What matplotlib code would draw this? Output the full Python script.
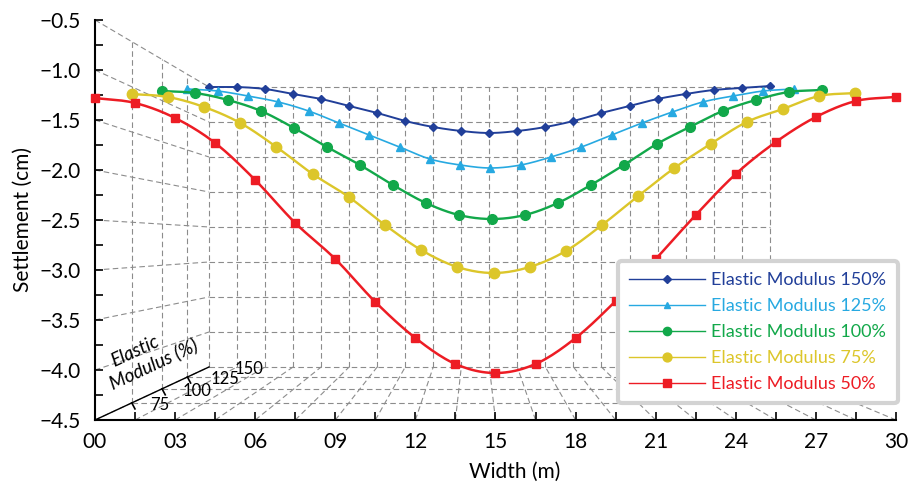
import numpy as np
import matplotlib.pyplot as plt
from matplotlib.lines import Line2D
from matplotlib.ticker import MultipleLocator, FuncFormatter

plt.rcParams['font.family'] = ['Lato', 'DejaVu Sans']

# data (settlement in cm, read against the front axis)
width_m = np.arange(0, 30.01, 1.5)
modulus_pct = [150, 125, 100, 75, 50]
settle_150 = [-1.17, -1.17, -1.19, -1.24, -1.29, -1.36, -1.43, -1.51, -1.57, -1.61, -1.63,
              -1.61, -1.57, -1.51, -1.43, -1.36, -1.29, -1.24, -1.20, -1.18, -1.16]
settle_125 = [-1.19, -1.21, -1.26, -1.32, -1.41, -1.53, -1.65, -1.77, -1.89, -1.95, -1.98,
              -1.95, -1.87, -1.77, -1.65, -1.53, -1.42, -1.32, -1.26, -1.21, -1.19]
settle_100 = [-1.21, -1.23, -1.30, -1.41, -1.58, -1.77, -1.95, -2.15, -2.33, -2.45, -2.49,
              -2.45, -2.33, -2.15, -1.95, -1.74, -1.57, -1.41, -1.30, -1.22, -1.20]
settle_75 = [-1.24, -1.27, -1.37, -1.53, -1.77, -2.04, -2.27, -2.55, -2.80, -2.97, -3.03,
             -2.97, -2.81, -2.55, -2.26, -1.98, -1.74, -1.52, -1.39, -1.26, -1.23]
settle_50 = [-1.28, -1.33, -1.48, -1.73, -2.10, -2.53, -2.89, -3.32, -3.68, -3.94, -4.03,
             -3.94, -3.68, -3.31, -2.89, -2.45, -2.04, -1.72, -1.47, -1.31, -1.27]
series = [settle_150, settle_125, settle_100, settle_75, settle_50]
depth_labels = [75, 100, 125, 150]

colors = ['#213f99', '#27a9e1', '#12a84a', '#dcc62a', '#ed1c24']
markers = ['D', '^', 'o', 'o', 's']
msizes = [4.5, 5.5, 7, 7.5, 6]
lwidths = [1.4, 1.2, 1.7, 1.7, 1.8]

# perspective box
XC, YC, K = 14.23, -2.733, 3.0 / 7.0
XMIN, XMAX, YMIN, YMAX = 0, 30, -4.5, -0.5


def scale(z):
    return 1.0 / (1.0 + K * z)


def proj(x, y, z):
    s = scale(z)
    return XC + s * (np.asarray(x) - XC), YC + s * (np.asarray(y) - YC)


def smooth(x, y, n=12):
    pts = np.column_stack([x, y])
    p = np.vstack([2 * pts[0] - pts[1], pts, 2 * pts[-1] - pts[-2]])
    t = np.linspace(0, 1, n, endpoint=False)[:, None]
    out = []
    for i in range(1, len(p) - 2):
        p0, p1, p2, p3 = p[i - 1], p[i], p[i + 1], p[i + 2]
        out.append(0.5 * (2 * p1 + (-p0 + p2) * t + (2 * p0 - 5 * p1 + 4 * p2 - p3) * t ** 2
                          + (-p0 + 3 * p1 - 3 * p2 + p3) * t ** 3))
    out.append(pts[-1:])
    pts = np.vstack(out)
    return pts[:, 0], pts[:, 1]


fig = plt.figure(figsize=(9.12, 4.86), dpi=100)
ax = fig.add_axes([95 / 912, 1 - 420 / 486, 801 / 912, 400 / 486])
ax.set_xlim(XMIN, XMAX)
ax.set_ylim(YMIN, YMAX)

gkw = dict(color='#8c8c8c', lw=0.8, ls=(0, (5, 3)), zorder=1)
depths = [0.25, 0.5, 0.75, 1.0]
y_levels = np.arange(YMIN, YMAX + 0.01, 0.5)
x_levels = np.arange(XMIN, XMAX + 0.01, 1.5)

# back wall
for yv in y_levels:
    px, py = proj([XMIN, XMAX], [yv, yv], 1.0)
    ax.plot(px, py, **gkw)
for xv in x_levels:
    px, py = proj([xv, xv], [YMIN, YMAX], 1.0)
    ax.plot(px, py, **gkw)
# left wall
for yv in y_levels:
    x0, y0 = proj(XMIN, yv, 0.0)
    x1, y1 = proj(XMIN, yv, 1.0)
    ax.plot([x0, x1], [y0, y1], **gkw)
for z in depths[:-1]:
    px, py = proj([XMIN, XMIN], [YMIN, YMAX], z)
    ax.plot(px, py, **gkw)
# floor
for z in depths[:-1]:
    px, py = proj([XMIN, XMAX], [YMIN, YMIN], z)
    ax.plot(px, py, **gkw)
for xv in x_levels[1:]:
    x0, y0 = proj(xv, YMIN, 0.0)
    x1, y1 = proj(xv, YMIN, 1.0)
    ax.plot([x0, x1], [y0, y1], **gkw)

# depth axis
x0, y0 = proj(XMIN, YMIN, 0.0)
x1, y1 = proj(XMIN, YMIN, 1.0)
ax.plot([x0, x1], [y0, y1], color='black', lw=1.0, zorder=2, clip_on=False)
for z, lab in zip(depths, depth_labels):
    tx, ty = proj(XMIN, YMIN, z)
    if z < 1.0:
        ax.plot([tx, tx + 0.12], [ty, ty - 0.06], color='black', lw=1.2, zorder=2)
    ax.text(tx + 0.6 + 0.35 * z, ty - 0.02, str(lab), fontsize=12, ha='left', va='center')
ax.text(0.72, -3.97, 'Elastic', fontsize=13.5, style='italic', rotation=25,
        rotation_mode='anchor', ha='left', va='baseline')
ax.text(0.68, -4.19, 'Modulus (%)', fontsize=13.5, style='italic', rotation=25,
        rotation_mode='anchor', ha='left', va='baseline')

# series
handles = []
for i, (vals, pct) in enumerate(zip(series, modulus_pct)):
    z = (pct - 50) / 100.0
    s = scale(z)
    xs = XC + s * (width_m - XC)
    sx, sy = smooth(xs, np.asarray(vals))
    ax.plot(sx, sy, color=colors[i], lw=lwidths[i], zorder=3 + i, clip_on=False)
    ax.plot(xs, vals, ls='none', marker=markers[i], ms=msizes[i], color=colors[i],
            mec=colors[i], zorder=3 + i, clip_on=False)
    handles.append(Line2D([], [], color=colors[i], lw=1.0, marker=markers[i],
                          ms=msizes[i] * 0.85, label=f'Elastic Modulus {pct}%'))

leg = ax.legend(handles=handles, loc='lower right', bbox_to_anchor=(1.002, 0.042),
                fontsize=13, frameon=True, fancybox=True, framealpha=1,
                handlelength=4.2, handletextpad=0.35, labelspacing=0.55,
                borderpad=0.62, borderaxespad=0)
leg.set_zorder(20)
leg.get_frame().set_linewidth(3)
leg.get_frame().set_edgecolor('#d3d3d3')
for txt, c in zip(leg.get_texts(), colors):
    txt.set_color(c)

# axes styling
for side in ['top', 'right']:
    ax.spines[side].set_visible(False)
for side in ['left', 'bottom']:
    ax.spines[side].set_linewidth(1.5)
ax.xaxis.set_major_locator(MultipleLocator(3))
ax.xaxis.set_minor_locator(MultipleLocator(1.5))
ax.yaxis.set_major_locator(MultipleLocator(0.5))
ax.yaxis.set_minor_locator(MultipleLocator(0.25))
ax.xaxis.set_major_formatter(FuncFormatter(lambda v, p: f'{int(round(v)):02d}'))
ax.yaxis.set_major_formatter(FuncFormatter(lambda v, p: f'{v:.1f}'.replace('-', '\u2212')))
ax.tick_params(which='both', direction='in', length=6, width=1.2, labelsize=15)
ax.tick_params(axis='y', which='major', pad=10)
ax.tick_params(axis='x', which='major', pad=9)
ax.set_xlabel('Width (m)', fontsize=15)
ax.set_ylabel('Settlement (cm)', fontsize=15)
ax.xaxis.set_label_coords(0.524, -0.105)
ax.yaxis.set_label_coords(-0.077, 0.5)

fig.savefig('out.png', dpi=100)
